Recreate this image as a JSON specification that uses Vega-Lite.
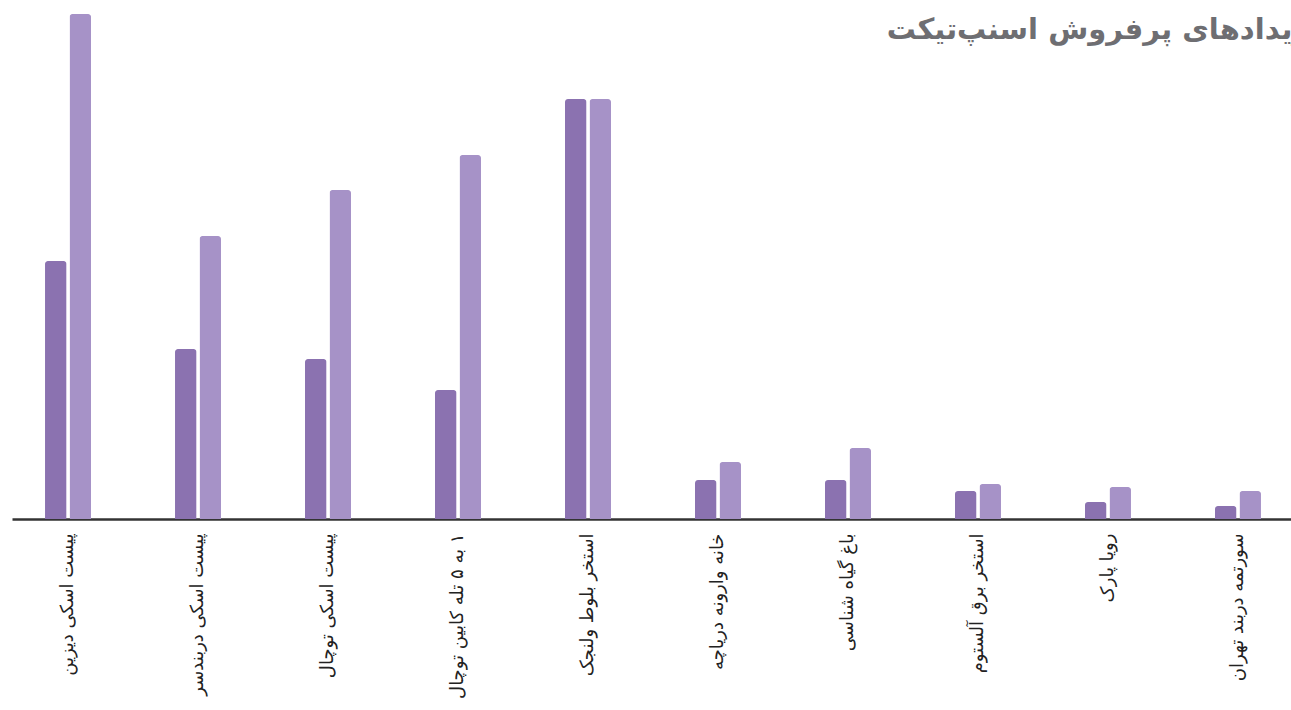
{
  "$schema": "https://vega.github.io/schema/vega-lite/v6.json",
  "autosize": {"type": "none"},
  "width": 1282,
  "height": 505,
  "padding": {"left": 12, "top": 14, "right": 0, "bottom": 191},
  "background": "white",
  "title": {
    "text": "رویدادهای پرفروش اسنپ‌تیکت",
    "anchor": "end",
    "frame": "group",
    "orient": "top",
    "baseline": "alphabetic",
    "offset": -23,
    "dy": 31,
    "dx": 33,
    "font": "DejaVu Sans",
    "fontSize": 29,
    "fontWeight": "bold",
    "color": "#6e6e72"
  },
  "data": {
    "values": [
      {"event": "پیست اسکی دیزین", "series": "الف", "value": 258},
      {"event": "پیست اسکی دیزین", "series": "ب", "value": 505},
      {"event": "پیست اسکی دربندسر", "series": "الف", "value": 170},
      {"event": "پیست اسکی دربندسر", "series": "ب", "value": 283},
      {"event": "پیست اسکی توچال", "series": "الف", "value": 160},
      {"event": "پیست اسکی توچال", "series": "ب", "value": 329},
      {"event": "۱ به ۵ تله کابین توچال", "series": "الف", "value": 129},
      {"event": "۱ به ۵ تله کابین توچال", "series": "ب", "value": 364},
      {"event": "استخر بلوط ولنجک", "series": "الف", "value": 420},
      {"event": "استخر بلوط ولنجک", "series": "ب", "value": 420},
      {"event": "خانه وارونه دریاچه", "series": "الف", "value": 39},
      {"event": "خانه وارونه دریاچه", "series": "ب", "value": 57},
      {"event": "باغ گیاه شناسی", "series": "الف", "value": 39},
      {"event": "باغ گیاه شناسی", "series": "ب", "value": 71},
      {"event": "استخر برق آلستوم", "series": "الف", "value": 28},
      {"event": "استخر برق آلستوم", "series": "ب", "value": 35},
      {"event": "رویا پارک", "series": "الف", "value": 17},
      {"event": "رویا پارک", "series": "ب", "value": 32},
      {"event": "سورتمه دربند تهران", "series": "الف", "value": 13},
      {"event": "سورتمه دربند تهران", "series": "ب", "value": 28}
    ]
  },
  "mark": {"type": "bar", "cornerRadiusTopLeft": 3, "cornerRadiusTopRight": 3},
  "encoding": {
    "x": {
      "field": "event",
      "type": "nominal",
      "sort": null,
      "scale": {"paddingInner": 0.646, "paddingOuter": 0.254},
      "axis": {
        "title": null,
        "labelExpr": "'\u200f' + datum.label",
        "labelAngle": -90,
        "labelAlign": "right",
        "labelBaseline": "middle",
        "labelFont": "DejaVu Sans",
        "labelFontSize": 18,
        "labelColor": "#222222",
        "labelPadding": 14,
        "labelLimit": 300,
        "ticks": false,
        "domainColor": "#333333",
        "domainWidth": 2.5,
        "domainCap": "butt",
        "grid": false
      }
    },
    "xOffset": {
      "field": "series",
      "type": "nominal",
      "sort": ["الف", "ب"],
      "scale": {"paddingInner": 0.12}
    },
    "y": {
      "field": "value",
      "type": "quantitative",
      "scale": {"domain": [0, 505], "nice": false},
      "axis": null
    },
    "color": {
      "field": "series",
      "type": "nominal",
      "sort": ["الف", "ب"],
      "scale": {"range": ["#8b72b0", "#a692c7"]},
      "legend": null
    }
  },
  "config": {"view": {"stroke": null}}
}
